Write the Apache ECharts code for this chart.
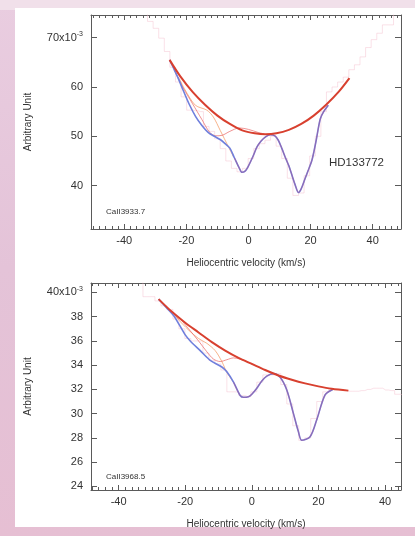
<!DOCTYPE html>
<html><head><meta charset="utf-8">
<script src="https://cdn.jsdelivr.net/npm/echarts@6/dist/echarts.min.js"></script>
<style>html,body{margin:0;padding:0;}#c{width:415px;height:536px;}</style>
</head><body><div id="c"></div>
<script>
// ---------- Top panel (Ca II 3933.7) ----------
const topContX = [-25.4, -22, -18, -14, -10, -6, -2, 2, 5.5, 9, 13, 17, 21, 25, 29, 32.5];
const topContY = [65.5, 62.2, 59.0, 56.4, 54.2, 52.5, 51.2, 50.6, 50.4, 50.6, 51.3, 52.5, 54.2, 56.4, 59.0, 61.8];

const topModelX = [-25.4, -23, -21, -19, -17, -15, -13, -11, -9, -7.5, -6, -4.5, -3, -2.1, -1, 0, 1.5, 2.7, 4, 5.5, 7, 8.5, 9.6, 10.7, 11.8, 13, 14, 15, 16.1, 17, 18.2, 19.3, 20.4, 21.1, 21.8, 23.1, 24.2, 25.7];
const topModelY = [65.5, 62.3, 59.3, 56.4, 54.0, 52.2, 50.8, 50.0, 49.3, 48.5, 47.6, 45.6, 43.6, 42.7, 43.0, 44.0, 46.0, 47.8, 49.0, 49.9, 50.3, 50.1, 49.2, 47.6, 45.8, 44.0, 42.1, 40.2, 38.6, 39.4, 41.4, 43.2, 45.1, 47.0, 49.2, 53.5, 55.0, 56.3];

const topComp1X = [-22.5, -20.4, -17.1, -13.4, -11.3, -9.1, -6.4, -4.8];
const topComp1Y = [62.0, 59.4, 56.3, 55.3, 53.9, 51.2, 47.8, 45.8];

const topComp2X = [-24, -21, -18, -15, -12.5, -10.5, -8.5, -6, -3, 0, 3, 5];
const topComp2Y = [63.5, 59.8, 56.6, 53.4, 50.8, 50.1, 50.2, 51.0, 51.7, 51.4, 50.8, 50.5];

const topObsX = [-33.4, -31.6, -29.8, -28.0, -26.2, -24.4, -22.6, -20.8, -19.0, -17.2, -15.4, -13.6, -11.8, -10.0, -8.2, -6.4, -4.6, -2.8, -1.0, 0.8, 2.6, 4.4, 6.2, 8.0, 9.8, 11.6, 13.4, 15.2, 17.0, 18.8, 20.6, 22.4, 24.2, 26.0, 27.8, 29.6, 31.4, 33.2, 35.0, 36.8, 38.6, 40.4, 42.2, 44.0, 45.8, 47.6, 49.4];
const topObsY = [78, 73.3, 71.9, 69.9, 67.2, 64.0, 61.0, 58.0, 55.3, 55.2, 55.0, 52.0, 51.0, 49.5, 47.5, 45.0, 43.5, 42.8, 43.5, 45.5, 47.5, 48.5, 49.2, 50.0, 48.0, 45.5, 41.5, 38.0, 38.5, 42.0, 46.0, 50.0, 55.0, 59.0, 60.0, 61.0, 62.0, 63.5, 64.5, 66.1, 68.0, 69.6, 70.9, 72.6, 72.6, 75, 76];

const topYTicks = [40, 50, 60, 70];

// ---------- Bottom panel (Ca II 3968.5) ----------
const botContX = [-28, -24, -20, -16, -12, -8, -4, 0, 4, 8, 12, 16, 20, 24, 29];
const botContY = [39.45, 38.4, 37.5, 36.7, 35.9, 35.2, 34.6, 34.1, 33.6, 33.15, 32.8, 32.5, 32.25, 32.05, 31.9];

const botModelX = [-28, -25.5, -23.5, -21.5, -20, -18.5, -15.5, -12.5, -9, -7.5, -5.5, -3.5, -2.5, -1, 0, 1.5, 3, 4.5, 6.5, 8.5, 10.5, 12.5, 14, 15, 17.5, 19.5, 22, 24.3];
const botModelY = [39.45, 38.7, 38.1, 37.2, 36.5, 36.0, 35.2, 34.4, 33.85, 33.45, 32.6, 31.5, 31.35, 31.4, 31.6, 32.1, 32.7, 33.1, 33.3, 33.0, 31.95, 30.0, 28.5, 27.8, 28.1, 29.5, 31.55, 32.0];

const botComp1X = [-23.5, -22.5, -19, -16, -13.5, -11, -9, -7.5, -5.5];
const botComp1Y = [38.3, 37.9, 36.9, 36.2, 35.8, 35.2, 34.3, 33.4, 32.6];

const botComp2X = [-22, -19, -16, -13.5, -11.5, -9.5, -7.5, -5.5, -3.5, -1.5, 0.5];
const botComp2Y = [38.0, 37.0, 36.0, 35.1, 34.5, 34.3, 34.45, 34.6, 34.5, 34.3, 34.0];

const botObsX = [-33.6, -31.8, -30.0, -28.2, -26.4, -24.6, -22.8, -21.0, -19.2, -17.4, -15.6, -13.8, -12.0, -10.2, -8.4, -6.6, -4.8, -3.0, -1.2, 0.6, 2.4, 4.2, 6.0, 7.8, 9.6, 11.4, 13.2, 15.0, 16.8, 18.6, 20.4, 22.2, 24.0, 25.8, 27.6, 29.4, 31.2, 33.0, 34.8, 36.6, 38.4, 40.2, 42.0, 43.8, 45.6];
const botObsY = [41.5, 39.65, 39.65, 39.3, 38.9, 38.6, 37.8, 37.0, 36.2, 36.0, 36.0, 35.0, 34.4, 34.1, 33.6, 31.8, 31.8, 31.5, 31.4, 31.8, 32.6, 33.2, 33.2, 33.3, 32.4, 30.8, 29.0, 27.8, 28.0, 29.6, 31.0, 31.8, 32.0, 32.0, 31.9, 31.85, 31.85, 31.9, 32.0, 32.1, 32.1, 31.95, 31.9, 31.6, 31.5];

const botYTicks = [24, 26, 28, 30, 32, 34, 36, 38, 40];

const xMajor = [-40, -20, 0, 20, 40];
const xMinor = [-50, -48, -46, -44, -42, -38, -36, -34, -32, -30, -28, -26, -24, -22, -18, -16, -14, -12, -10, -8, -6, -4, -2, 2, 4, 6, 8, 10, 12, 14, 16, 18, 22, 24, 26, 28, 30, 32, 34, 36, 38, 42, 44, 46, 48];

const titleX = 'Heliocentric velocity (km/s)';
const titleY = 'Arbitrary Unit';
const labelTop = 'HD133772';
const lineTop = 'CaII3933.7';
const lineBot = 'CaII3968.5';

function pairs(xs, ys) { return xs.map((x, i) => [x, ys[i]]); }

const FONT = 'Liberation Sans';
const AX = '#5a5a5a';
const TXT = '#333';

function xAxes(grid, min, max) {
  const base = { type: 'value', gridIndex: grid, min: min, max: max, splitLine: { show: false } };
  return [
    Object.assign({}, base, {
      position: 'bottom',
      axisLine: { show: true, onZero: false, lineStyle: { color: AX, width: 1 } },
      axisTick: { show: true, inside: true, length: 5, customValues: xMajor, lineStyle: { color: AX } },
      axisLabel: { show: true, customValues: xMajor, margin: 6, fontFamily: FONT, fontSize: 11, color: TXT },
      name: titleX, nameLocation: 'middle', nameGap: 29,
      nameTextStyle: { fontFamily: FONT, fontSize: 10, color: TXT }
    }),
    Object.assign({}, base, {
      position: 'bottom',
      axisLine: { show: false, onZero: false },
      axisTick: { show: true, inside: true, length: 3, customValues: xMinor, lineStyle: { color: AX } },
      axisLabel: { show: false }
    }),
    Object.assign({}, base, {
      position: 'top',
      axisLine: { show: true, onZero: false, lineStyle: { color: AX, width: 1 } },
      axisTick: { show: true, inside: true, length: 5, customValues: xMajor, lineStyle: { color: AX } },
      axisLabel: { show: false }
    }),
    Object.assign({}, base, {
      position: 'top',
      axisLine: { show: false, onZero: false },
      axisTick: { show: true, inside: true, length: 3, customValues: xMinor, lineStyle: { color: AX } },
      axisLabel: { show: false }
    })
  ];
}

function yAxes(grid, min, max, ticks, topVal) {
  const base = { type: 'value', gridIndex: grid, min: min, max: max, splitLine: { show: false } };
  return [
    Object.assign({}, base, {
      position: 'left',
      axisLine: { show: true, onZero: false, lineStyle: { color: AX, width: 1 } },
      axisTick: { show: true, inside: true, length: 6, customValues: ticks, lineStyle: { color: AX } },
      axisLabel: {
        show: true, customValues: ticks, margin: 8, fontFamily: FONT, fontSize: 11, color: TXT,
        formatter: v => (v === topVal ? '{a|' + v + 'x10}{s|-3}' : String(v)),
        rich: {
          a: { fontFamily: FONT, fontSize: 11, color: TXT },
          s: { fontFamily: FONT, fontSize: 7, color: TXT, verticalAlign: 'top', padding: [0, 0, 7, 0] }
        }
      },
      name: titleY, nameLocation: 'middle', nameGap: 58, nameRotate: 90,
      nameTextStyle: { fontFamily: FONT, fontSize: 10, color: TXT }
    }),
    Object.assign({}, base, {
      position: 'right',
      axisLine: { show: true, onZero: false, lineStyle: { color: AX, width: 1 } },
      axisTick: { show: true, inside: true, length: 6, customValues: ticks, lineStyle: { color: AX } },
      axisLabel: { show: false }
    })
  ];
}

function seriesFor(xi, yi, cont, model, c1, c2, obs) {
  const common = { type: 'line', xAxisIndex: xi, yAxisIndex: yi, symbol: 'none', silent: true };
  return [
    Object.assign({}, common, { data: obs, step: 'middle', z: 1,
      lineStyle: { color: 'rgba(242,180,198,0.4)', width: 1 } }),
    Object.assign({}, common, { data: c1, smooth: 0.3, z: 3,
      lineStyle: { color: 'rgba(245,160,110,0.8)', width: 1 } }),
    Object.assign({}, common, { data: c2, smooth: 0.3, z: 3,
      lineStyle: { color: 'rgba(232,100,100,0.7)', width: 1 } }),
    Object.assign({}, common, { data: model, smooth: 0.3, z: 4,
      lineStyle: { color: '#6f7fdc', width: 1.6 } }),
    Object.assign({}, common, { data: model.filter(p => p[0] >= c1[c1.length - 1][0]), smooth: 0.3, z: 5,
      lineStyle: { color: 'rgba(200,70,110,0.35)', width: 1.2 } }),
    Object.assign({}, common, { data: cont, smooth: 0.3, z: 6,
      lineStyle: { color: '#d8402f', width: 2 } })
  ];
}

const chart = echarts.init(document.getElementById('c'), null, { renderer: 'canvas' });
chart.setOption({
  animation: false,
  backgroundColor: '#ffffff',
  grid: [
    { left: 91, top: 15, width: 310, height: 214 },
    { left: 91, top: 283, width: 310, height: 207 }
  ],
  xAxis: xAxes(0, -50.7, 49.1).concat(xAxes(1, -48.3, 44.8)),
  yAxis: yAxes(0, 31.2, 74.6, topYTicks, 70).concat(yAxes(1, 23.7, 40.78, botYTicks, 40)),
  series: seriesFor(0, 0, pairs(topContX, topContY), pairs(topModelX, topModelY),
                    pairs(topComp1X, topComp1Y), pairs(topComp2X, topComp2Y), pairs(topObsX, topObsY))
    .concat(seriesFor(4, 2, pairs(botContX, botContY), pairs(botModelX, botModelY),
                    pairs(botComp1X, botComp1Y), pairs(botComp2X, botComp2Y), pairs(botObsX, botObsY))),
  graphic: [
    { type: 'rect', z: -100, silent: true, shape: { x: 0, y: 0, width: 415, height: 536 },
      style: { fill: new echarts.graphic.LinearGradient(0, 0, 0, 1, [
        { offset: 0, color: '#e9cde0' }, { offset: 0.5, color: '#e4c3d8' }, { offset: 1, color: '#e6bfd3' }]) } },
    { type: 'rect', z: -99, silent: true, shape: { x: 0, y: 0, width: 415, height: 10 },
      style: { fill: '#f1e0ea' } },
    { type: 'rect', z: -98, silent: true, shape: { x: 15, y: 8, width: 400, height: 519 },
      style: { fill: '#ffffff' } },
    { type: 'text', z: 100, silent: true, style: { text: labelTop, x: 329, y: 163, verticalAlign: 'middle',
      font: '11.5px "Liberation Sans"', fill: TXT } },
    { type: 'text', z: 100, silent: true, style: { text: lineTop, x: 106, y: 212, verticalAlign: 'middle',
      font: '8px "Liberation Sans"', fill: TXT } },
    { type: 'text', z: 100, silent: true, style: { text: lineBot, x: 106, y: 477, verticalAlign: 'middle',
      font: '8px "Liberation Sans"', fill: TXT } }
  ]
});
</script>
</body></html>
